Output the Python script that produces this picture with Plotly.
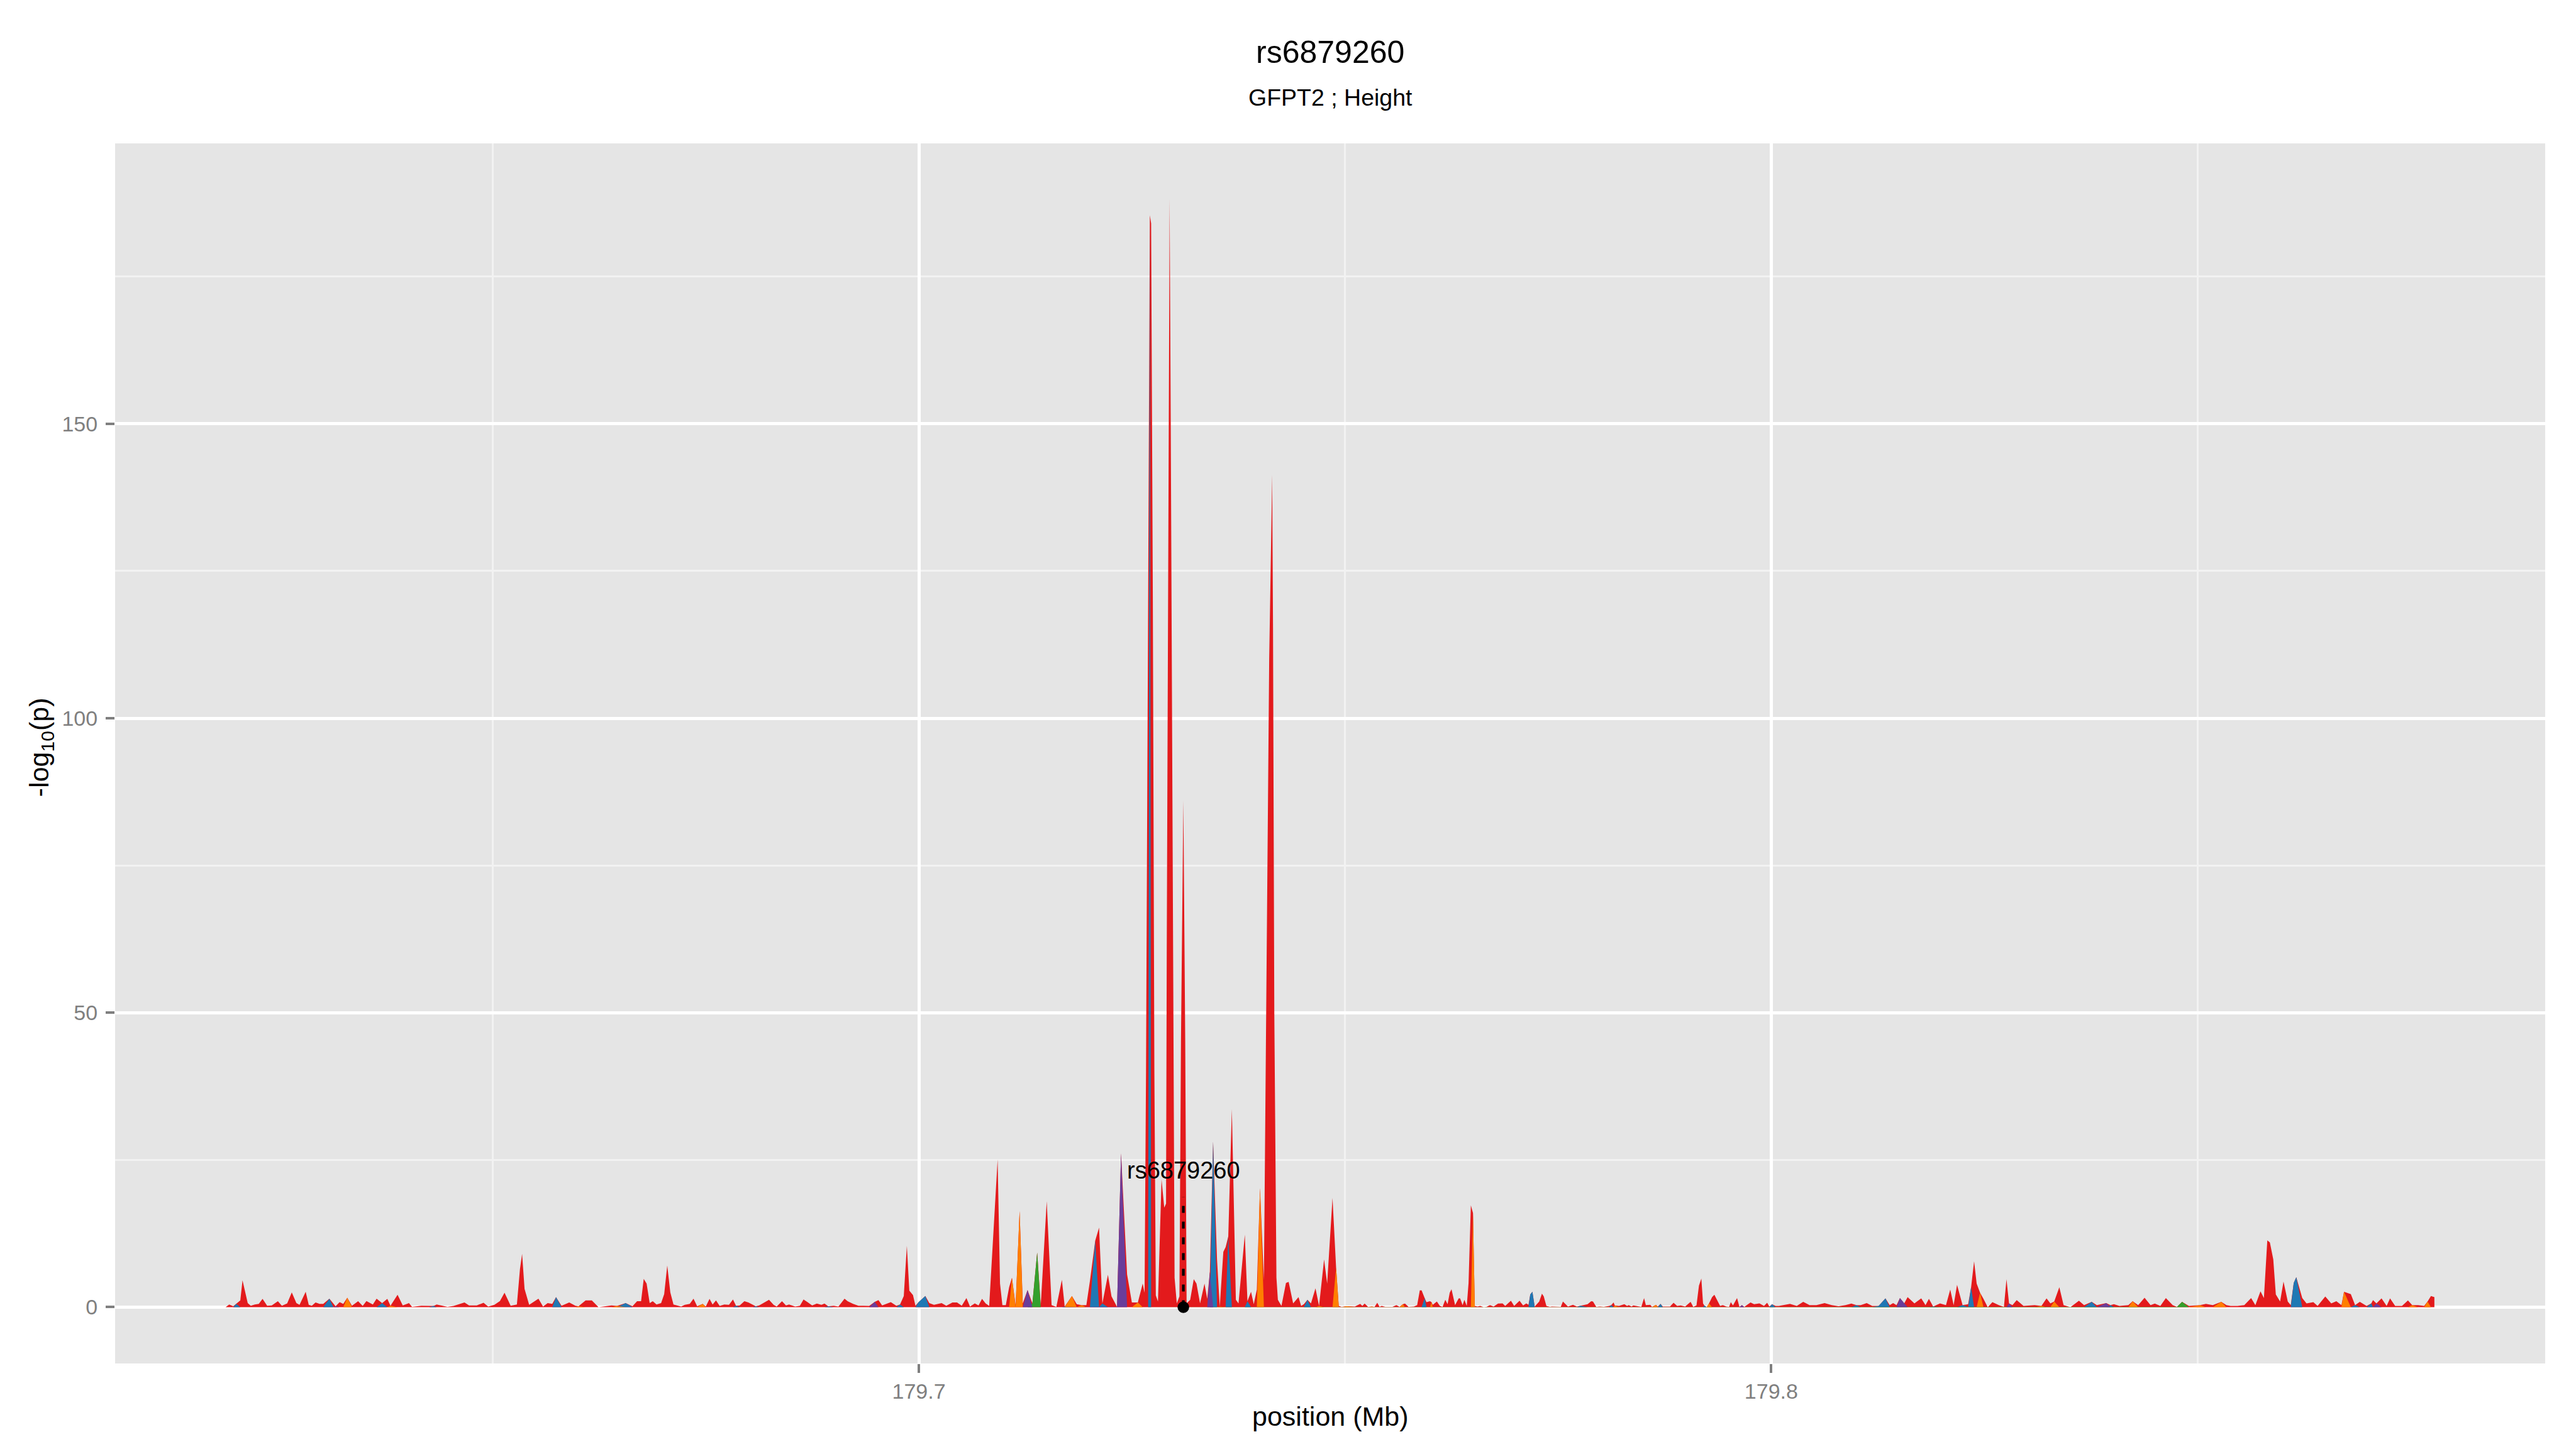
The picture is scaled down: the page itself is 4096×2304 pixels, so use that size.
import plotly.graph_objects as go

# ---------------- data (positions in kb, values = -log10 p) ----------------
red_pos_kb = [
 179618.66,179619.09,179619.56,179620.39,179620.65,179620.93,179621.26,179621.62,179622.09,179622.56,
 179623.00,179623.54,179624.08,179624.80,179625.27,179625.89,179626.43,179626.97,179627.34,179628.06,
 179628.42,179628.78,179629.22,179629.69,179630.12,179631.31,179632.04,179632.47,179633.49,179634.21,
 179634.75,179635.19,179635.66,179635.94,179636.38,179637.64,179638.84,179639.45,179640.18,179641.62,
 179642.53,179643.43,179645.42,179646.69,179647.23,179648.13,179648.93,179649.47,179650.20,179650.85,
 179651.39,179652.11,179652.84,179653.20,179653.45,179653.74,179654.28,179655.37,179655.91,179656.45,
 179656.99,179658.08,179658.98,179659.71,179660.90,179661.63,179662.42,179663.33,179663.94,179666.40,
 179666.94,179667.41,179667.72,
 179668.06,179668.42,179668.78,179669.22,179669.76,179670.12,179670.48,179670.84,179671.21,179671.68,
 179672.11,179672.54,179673.12,179673.56,179673.99,179675.00,179675.44,179675.80,179676.20,179676.63,
 179677.17,179677.72,179678.19,179678.98,179679.53,179680.00,179680.50,179681.26,179681.88,179682.42,
 179682.96,179683.32,179683.94,179684.41,179684.77,179685.49,179686.04,179686.47,179686.94,179687.48,
 179688.03,179688.57,179688.93,179690.02,179690.56,179691.28,179691.64,179692.29,179692.91,179693.52,
 179694.17,179695.26,179695.69,179696.16,179696.71,179697.36,179698.23,179698.59,179698.88,179699.31,
 179699.60,179701.23,179701.77,179702.67,179703.22,179703.94,179704.48,179705.03,
 179705.58,179706.00,179706.56,179707.00,179707.41,179707.83,179708.25,179708.73,179709.24,179709.52,
 179709.80,179710.20,179710.59,179711.35,179712.19,179714.30,179715.00,179715.57,179716.13,179716.78,
 179718.52,179719.65,179720.07,179721.14,179722.18,179722.60,179724.43,179724.99,179726.26,
 179726.48,179726.65,179726.90,179727.25,179727.45,179727.63,179727.80,179728.05,179728.47,179728.79,
 179729.00,179729.08,179729.30,179729.42,179729.55,179729.85,179730.00,179730.26,179730.57,179730.75,
 179731.03,179731.25,179731.41,179731.83,179732.25,179732.57,179732.99,179733.51,179733.83,179734.98,
 179735.72,179735.99,179736.72,179737.19,179737.50,179738.24,179738.97,179739.29,179739.65,179740.48,
 179740.70,179740.95,179741.10,179741.45,179741.55,179741.70,179741.95,179742.12,179742.54,179743.07,
 179743.38,179743.91,179744.54,179744.85,179745.17,179746.00,179746.53,179747.54,179747.90,179748.53,
 179749.26,
 179751.15,179751.78,179752.03,179752.30,179752.70,179753.46,179753.78,179754.05,179754.30,179754.72,
 179755.56,179756.02,179756.40,179757.03,179757.45,179758.08,179758.46,179758.77,179758.98,179759.55,
 179759.97,179760.29,179760.77,179761.13,179761.44,179761.76,179762.03,179762.28,179762.49,179762.91,
 179763.33,179763.50,179763.79,179764.00,179764.28,179764.49,179764.76,179765.22,179765.54,179765.85,
 179766.27,179766.59,179767.00,179767.43,179767.95,179768.48,179768.79,179769.46,179769.84,179770.47,
 179770.89,179771.27,179771.52,179772.25,179772.78,179773.10,179773.31,179773.62,179774.04,179774.26,
 179775.31,179775.56,179776.15,179776.74,179777.20,179778.46,179778.88,179779.09,179779.47,179779.93,
 179780.98,179781.50,179782.14,179782.77,179783.08,179783.29,179783.61,179783.82,179784.13,179784.34,
 179784.76,179785.08,179785.29,179785.81,179786.02,179786.69,179787.28,179787.70,179788.12,179788.54,
 179788.96,179789.38,179789.90,179790.54,179790.85,179791.23,179791.52,179791.80,179792.00,179792.43,
 179793.06,179793.33,179794.00,179794.32,179794.74,179795.05,179795.26,179795.51,179795.99,179796.27,
 179796.84,179797.57,179797.99,179798.62,179799.15,179799.52,179799.78,
 179800.51,179800.90,179802.20,179803.00,179803.75,179804.50,179805.30,179806.26,179807.10,179807.90,
 179808.70,179809.40,179810.50,179811.20,179811.85,179813.90,179814.30,179814.70,179816.00,179816.80,
 179817.60,179818.10,179818.50,179819.80,179820.50,179821.00,179821.40,179821.80,179823.10,179823.80,
 179824.10,179824.90,179825.40,179825.95,179826.70,179827.60,179828.30,179828.80,179829.60,179830.90,
 179832.30,179832.75,179833.80,179834.30,179835.10,179836.10,179836.70,179838.20,179840.20,179840.85,
 179841.90,179843.05,179843.80,179844.50,179845.00,179845.65,179846.30,179847.10,179849.00,179851.00,
 179851.80,179853.40,179853.90,179854.70,179855.50,179856.30,179856.80,179857.40,179857.80,179858.20,
 179858.50,179858.90,179859.20,179859.70,179860.10,179860.60,179860.95,179862.30,179862.80,179863.60,
 179864.10,179865.00,179865.70,179866.30,179866.90,179868.00,179869.05,179869.85,179870.60,179871.60,
 179872.20,179872.60,179873.20,179874.00,179874.70,179875.90,179876.60,179877.40,179877.80,
]
red_logp = [
 0.0,0.45,0.15,1.15,4.55,2.8,0.7,0.25,0.45,0.55,
 1.4,0.25,0.3,1.0,0.25,0.65,2.5,0.7,0.4,2.6,
 0.4,0.25,0.8,0.55,0.55,0.55,0.85,0.55,0.25,1.0,
 0.2,1.05,0.7,0.45,1.45,1.4,2.1,0.3,0.7,0.25,
 0.2,0.45,0.2,0.8,0.3,0.3,0.75,0.1,0.4,1.05,
 2.45,0.25,0.45,6.45,9.05,3.1,0.4,1.45,0.1,0.7,
 0.55,0.25,0.8,0.25,1.15,1.15,0.0,0.2,0.3,0.15,
 1.0,1.0,4.8,
 4.0,0.7,1.0,0.45,0.7,2.2,7.07,2.5,0.45,0.3,
 0.1,0.4,0.55,1.45,0.15,0.1,1.4,0.45,1.15,0.2,
 0.45,0.4,1.3,0.3,1.0,0.8,0.4,0.3,0.85,1.25,
 0.4,0.1,1.0,0.3,0.45,0.1,0.25,1.3,0.85,0.3,
 0.6,0.4,0.6,0.25,0.1,1.45,1.0,0.55,0.25,0.25,
 0.2,1.2,0.3,0.55,0.85,0.25,1.9,10.4,2.8,2.05,
 0.25,0.7,0.4,0.7,0.25,0.8,0.8,0.25,
 1.55,0.1,0.65,0.3,1.4,0.65,0.2,12.5,25.1,4.0,
 0.35,0.35,3.4,0.35,0.65,0.35,18.0,0.35,0.05,4.65,
 0.5,0.35,4.45,13.5,5.5,1.85,5.55,0.8,4.0,
 2.45,40,120,184.0,120,40,2.0,0.95,21.7,16.9,
 17.6,60,150,188.2,150,60,5,0.65,1.85,45,
 86.0,45,0.65,1.25,4.75,4.0,0.65,4.0,1.4,8.1,
 9.4,10.2,33.6,1.25,0.65,12.3,2.6,0.5,3.0,4.6,
 40,80,110,141.3,115,50,5,1.25,0.2,4.1,
 4.3,0.65,1.7,0.2,0.5,0.65,3.2,8.1,4.0,18.55,
 0.2,
 0.1,0.55,0.2,0.6,0.05,0.05,0.75,0.05,0.2,0.05,
 0.05,0.35,0.05,0.6,0.05,0.1,0.35,2.85,2.85,0.85,
 1.0,0.4,0.95,0.2,0.05,1.25,0.5,2.45,3.05,0.35,
 1.5,1.5,0.35,1.25,0.2,4.1,17.3,0.2,0.1,0.2,
 0.0,0.05,0.35,0.1,0.6,0.65,0.2,1.1,0.2,1.1,
 0.3,0.65,0.4,0.1,0.95,2.3,1.85,0.2,0.05,0.1,
 0.05,0.95,0.1,0.4,0.1,0.5,1.0,0.95,0.05,0.1,
 0.2,0.8,0.2,0.5,0.2,0.35,0.1,0.3,0.2,0.2,
 0.05,1.55,0.35,0.4,0.05,0.1,0.1,0.1,0.1,0.75,
 0.2,0.3,0.1,0.9,0.05,0.3,3.65,4.85,0.65,0.0,
 1.7,2.1,0.2,0.35,0.1,0.05,0.85,0.3,1.55,0.05,
 0.05,0.8,0.5,0.65,0.2,0.75,0.1,
 0.2,0.2,0.55,0.2,0.9,0.35,0.35,0.7,0.35,0.15,
 0.35,0.6,0.35,0.7,0.2,0.35,0.7,0.35,1.7,0.65,
 1.5,0.35,1.4,0.65,0.35,3.0,0.35,3.8,0.5,7.8,
 4.0,1.4,0.0,0.85,0.35,4.75,0.35,1.2,0.2,0.35,
 1.5,0.65,3.4,0.35,0.0,1.1,0.35,0.35,0.5,0.2,
 0.35,0.35,1.6,0.35,0.6,0.2,1.55,0.35,0.2,0.55,
 0.35,0.35,0.2,0.2,0.35,1.55,0.35,2.7,1.55,11.35,
 11.0,8.1,2.15,0.95,4.35,0.95,0.35,1.55,0.65,0.85,
 0.2,1.8,0.65,1.0,0.35,2.2,0.9,0.2,1.2,1.5,
 0.2,1.5,0.2,0.2,1.15,0.35,0.2,1.9,1.7,
]

blue_pos_kb = [179619.92,179630.84,179637.03,179643.07,179657.43,179665.60,179678.55,179680.86,179689.36,179697.79,
               179699.96,179700.76,179717.11,179720.69,179721.53,179727.10,179734.52,179736.30,179738.55,179745.59,
               179749.60,179759.34,179771.73,179771.98,179777.62,179780.35,179781.23,179787.01,179792.15,179800.09,
               179810.00,179812.60,179813.40,179819.00,179822.45,179823.45,179827.30,179837.60,179839.80,179861.30,
               179861.60,179868.50,179870.40]
blue_logp = [0.55,1.45,0.7,0.2,1.7,0.7,0.25,0.15,0.15,0.45,
             0.85,1.9,0.1,11.3,0.65,185.4,28.1,12.0,1.0,1.25,
             0.05,1.55,2.15,2.6,0.25,0.05,0.35,0.55,0.3,0.5,
             0.35,0.2,1.5,0.1,0.35,3.4,0.05,0.9,0.35,4.1,
             5.1,0.35,0.65]

orange_pos_kb = [179632.94,179638.01,179644.70,179660.07,179664.59,179674.64,179710.92,179711.82,179717.96,179719.08,
                 179725.69,179735.30,179740.02,179746.95,179748.95,179750.20,179753.15,179756.78,179760.14,179765.01,
                 179781.65,179786.48,179792.70,179824.50,179831.70,179833.20,179842.40,179850.30,179852.80,179867.20,
                 179875.20,179877.00]
orange_logp = [1.6,0.25,0.05,0.15,0.2,0.55,5.0,16.3,1.9,0.35,
               0.8,0.1,20.2,0.2,6.7,0.15,0.1,0.5,0.85,16.0,
               0.3,0.4,0.65,2.45,0.2,0.95,1.0,0.35,0.9,2.6,
               0.35,0.95]

green_pos_kb = [179713.32,179713.88,179847.60,179848.20]
green_logp = [0.65,9.3,0.05,0.9]

purple_pos_kb = [179631.57,179640.54,179694.83,179712.75,179723.25,179723.72,179734.14,179796.56,179815.10,179815.60,
                 179827.90,179839.30,179871.00]
purple_logp = [0.15,0.05,0.9,2.9,0.05,26.1,6.0,0.35,1.55,0.65,
               0.65,0.7,0.65]

group_colors = {"other": "#E31A1C", "blue": "#1F78B4", "orange": "#FF7F00",
                "green": "#33A02C", "purple": "#6A3D9A"}

lead_snp = "rs6879260"
lead_pos_kb = 179731.03
lead_segment_top = 18.7
lead_label_y = 23.2

title_text = "rs6879260"
subtitle_text = "GFPT2 ; Height"
x_ticks = [179.7, 179.8]
x_minor = [179.65, 179.75, 179.85]
y_ticks = [0, 50, 100, 150]
y_minor = [25, 75, 125, 175]

# ---------------- build ----------------
groups = {
    "other": (red_pos_kb, red_logp),
    "blue": (blue_pos_kb, blue_logp),
    "orange": (orange_pos_kb, orange_logp),
    "green": (green_pos_kb, green_logp),
    "purple": (purple_pos_kb, purple_logp),
}
snps = []
for name, (p, v) in groups.items():
    assert len(p) == len(v), name
    snps += [(pp, vv, name) for pp, vv in zip(p, v)]
snps.sort()
P = [s[0] / 1000.0 for s in snps]
V = [s[1] for s in snps]
G = [s[2] for s in snps]

fig = go.Figure()
for name in ["other", "blue", "orange", "green", "purple"]:
    if name == "other":
        y = V
    else:
        y = [v if g == name else 0 for v, g in zip(V, G)]
    col = group_colors[name]
    fig.add_trace(go.Scatter(x=P, y=y, mode="lines", line=dict(width=0, color=col),
                             fill="tozeroy", fillcolor=col, hoverinfo="skip", showlegend=False))

lead_x = lead_pos_kb / 1000.0
fig.add_trace(go.Scatter(x=[lead_x, lead_x], y=[0, lead_segment_top], mode="lines",
                         line=dict(color="black", width=4.3, dash="11px,14px"),
                         hoverinfo="skip", showlegend=False))
fig.add_trace(go.Scatter(x=[lead_x], y=[0], mode="markers",
                         marker=dict(color="black", size=18.5), hoverinfo="skip", showlegend=False))

FONT = "Liberation Sans, Arial, Helvetica, sans-serif"
W, H = 4096, 2304
ml, mr, mt, mb = 183, 49, 228, 136
ph = H - mt - mb
pw = W - ml - mr

fig.add_annotation(x=lead_x, y=lead_label_y, xref="x", yref="y", text=lead_snp, showarrow=False,
                   font=dict(size=38, color="black", family=FONT), xanchor="center", yanchor="middle")
fig.add_annotation(x=0.5, y=1 + 145 / ph, xref="paper", yref="paper", text=title_text, showarrow=False,
                   font=dict(size=50, color="black", family=FONT), xanchor="center", yanchor="middle")
fig.add_annotation(x=0.5, y=1 + 73 / ph, xref="paper", yref="paper", text=subtitle_text, showarrow=False,
                   font=dict(size=37.5, color="black", family=FONT), xanchor="center", yanchor="middle")
fig.add_annotation(x=0.5, y=-84 / ph, xref="paper", yref="paper", text="position (Mb)", showarrow=False,
                   font=dict(size=43, color="black", family=FONT), xanchor="center", yanchor="middle")
fig.add_annotation(x=-118 / pw, y=0.5 + (ph / 2 - (1393 * 0.853 - mt)) / ph, xref="paper", yref="paper",
                   text="-log<sub>10</sub>(p)", showarrow=False, textangle=-90,
                   font=dict(size=43, color="black", family=FONT), xanchor="center", yanchor="middle")

axis_common = dict(showline=False, zeroline=False, showgrid=True, gridcolor="white", gridwidth=5,
                   ticks="outside", ticklen=14, tickwidth=3.5, tickcolor="#7F7F7F",
                   tickfont=dict(size=34, color="#7F7F7F", family=FONT))
fig.update_xaxes(range=[179.6057, 179.8908], tickmode="array", tickvals=x_ticks,
                 ticktext=[f"{t:.1f}" for t in x_ticks],
                 minor=dict(tickmode="array", tickvals=x_minor, showgrid=True, gridcolor="#F2F2F2",
                            gridwidth=2.5, ticks=""),
                 **axis_common)
fig.update_yaxes(range=[-9.56, 197.6], tickmode="array", tickvals=y_ticks,
                 ticktext=[str(t) for t in y_ticks],
                 minor=dict(tickmode="array", tickvals=y_minor, showgrid=True, gridcolor="#F2F2F2",
                            gridwidth=2.5, ticks=""),
                 ticklabelstandoff=6,
                 **axis_common)

fig.update_layout(width=W, height=H, autosize=False,
                  margin=dict(l=ml, r=mr, t=mt, b=mb, pad=0),
                  paper_bgcolor="white", plot_bgcolor="#E5E5E5",
                  font=dict(family=FONT), hovermode=False, showlegend=False)

fig.write_html("out.html", config={"displayModeBar": False},
               post_script="document.body.style.margin='0px';")
